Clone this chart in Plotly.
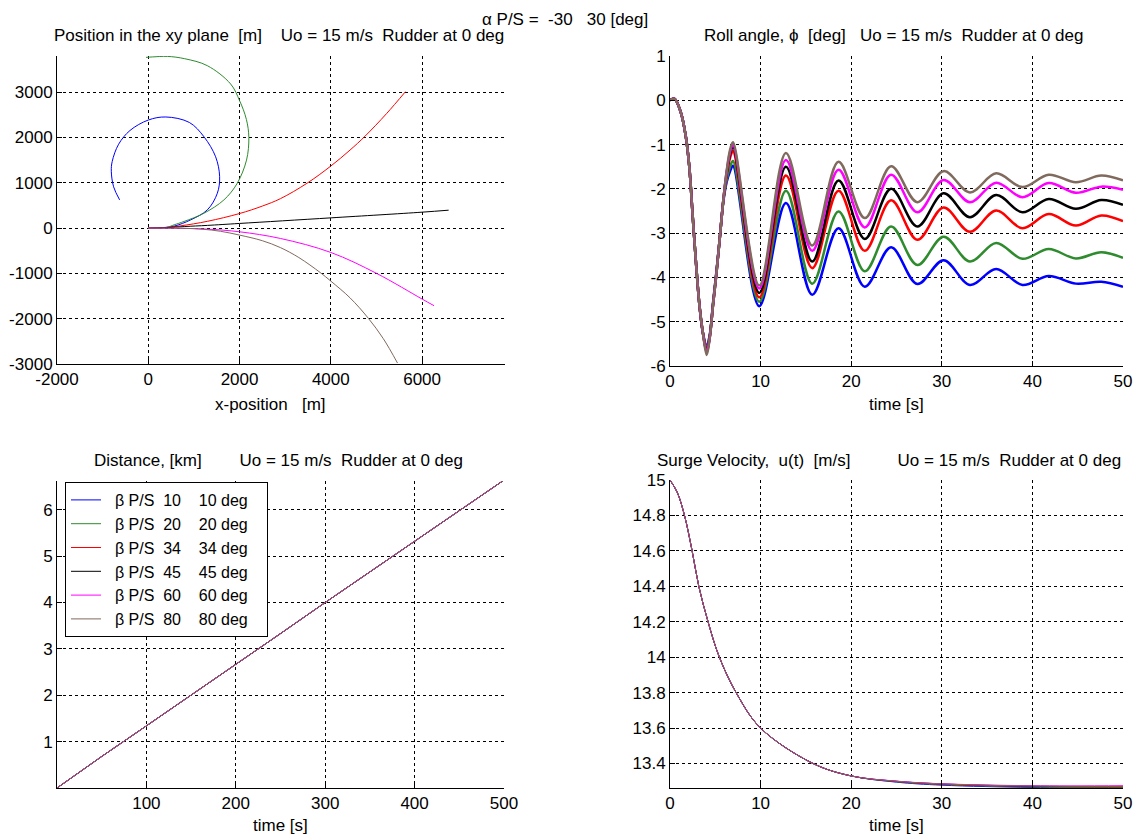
import plotly.graph_objects as go

NB = "\u00a0"

# ---------------- data ----------------
series_names = [
    f"{NB*2}β P/S{NB*2}10{NB*4}10 deg{NB*3}",
    f"{NB*2}β P/S{NB*2}20{NB*4}20 deg{NB*3}",
    f"{NB*2}β P/S{NB*2}34{NB*4}34 deg{NB*3}",
    f"{NB*2}β P/S{NB*2}45{NB*4}45 deg{NB*3}",
    f"{NB*2}β P/S{NB*2}60{NB*4}60 deg{NB*3}",
    f"{NB*2}β P/S{NB*2}80{NB*4}80 deg{NB*3}",
]
series_colors = ["#0000ff", "#2e8b2e", "#ff0000", "#000000", "#ff00ff", "#806a5e"]

# Position in the xy plane [m]
pos_x = [
    [0, 300, 567, 931, 1295, 1513, 1564, 1476, 1222, 900, 385, 0, -400, -650, -790, -810, -760, -628],
    [0, 400, 567, 785, 1222, 1658, 1949, 2153, 2204, 2150, 2000, 1804, 1295, 800, 422, 100, -50],
    [0, 400, 713, 1295, 2000, 2500, 2895, 3476, 4000, 4422, 4749, 5222, 5636],
    [0, 400, 800, 1295, 2000, 4007, 6000, 6582],
    [0, 700, 1295, 2000, 2895, 4000, 5004, 6000, 6262],
    [0, 800, 1200, 1585, 2000, 2500, 2895, 3300, 3767, 4000, 4422, 4822, 5150, 5462],
]
pos_y = [
    [0, 10, 44, 183, 403, 769, 1135, 1575, 2015, 2333, 2454, 2386, 2156, 1852, 1473, 1255, 913, 624],
    [0, 15, 73, 147, 330, 623, 989, 1502, 2000, 2400, 2817, 3183, 3586, 3740, 3791, 3780, 3770],
    [0, 15, 51, 150, 322, 487, 650, 989, 1370, 1724, 2028, 2529, 3013],
    [0, 10, 35, 60, 103, 227, 352, 396],
    [0, -5, -22, -81, -228, -537, -1000, -1566, -1713],
    [0, -5, -25, -70, -154, -278, -430, -650, -980, -1170, -1540, -1990, -2440, -2980],
]

# Roll angle [deg]
roll_t = [0, 0.5, 1.2, 1.76, 2.13, 2.5, 2.88, 3.26, 3.63, 4.05, 4.38, 4.76, 5.13, 5.5, 5.88, 6.25, 6.63,
          6.95, 9.85, 12.8, 15.7, 18.6, 21.5, 24.4, 27.3, 30.2, 33.1, 36.0, 38.9, 41.8, 44.8, 47.6, 50.0]
roll_phi = [
    [0, 0.03, -0.28, -0.84, -1.5, -2.6, -3.7, -4.65, -5.25, -5.55, -5.3, -4.55, -3.85, -3.1, -2.3, -1.85, -1.6,
     -1.48, -4.65, -2.32, -4.39, -2.89, -4.21, -3.32, -4.15, -3.61, -4.17, -3.81, -4.17, -3.97, -4.14, -4.10, -4.21],
    [0, 0.03, -0.28, -0.84, -1.5, -2.6, -3.7, -4.65, -5.25, -5.6, -5.33, -4.57, -3.87, -3.1, -2.28, -1.8, -1.5,
     -1.37, -4.55, -2.04, -4.14, -2.51, -3.86, -2.85, -3.72, -3.08, -3.64, -3.22, -3.58, -3.36, -3.57, -3.43, -3.56],
    [0, 0.03, -0.28, -0.84, -1.5, -2.6, -3.7, -4.65, -5.25, -5.65, -5.35, -4.6, -3.9, -3.1, -2.27, -1.7, -1.3,
     -1.15, -4.45, -1.70, -3.79, -2.04, -3.40, -2.26, -3.15, -2.42, -2.97, -2.49, -2.89, -2.57, -2.83, -2.60, -2.73],
    [0, 0.03, -0.28, -0.84, -1.5, -2.6, -3.7, -4.65, -5.25, -5.68, -5.36, -4.6, -3.9, -3.1, -2.27, -1.65, -1.22,
     -1.05, -4.35, -1.50, -3.64, -1.81, -3.13, -2.00, -2.85, -2.10, -2.64, -2.14, -2.53, -2.23, -2.45, -2.25, -2.36],
    [0, 0.03, -0.28, -0.84, -1.5, -2.6, -3.7, -4.65, -5.25, -5.7, -5.37, -4.6, -3.9, -3.1, -2.27, -1.62, -1.17,
     -1.00, -4.25, -1.35, -3.40, -1.57, -2.87, -1.68, -2.53, -1.80, -2.30, -1.86, -2.19, -1.87, -2.09, -1.95, -2.02],
    [0, 0.03, -0.28, -0.84, -1.5, -2.6, -3.7, -4.65, -5.25, -5.75, -5.38, -4.6, -3.9, -3.1, -2.27, -1.6, -1.12,
     -0.95, -4.18, -1.19, -3.28, -1.39, -2.66, -1.49, -2.30, -1.60, -2.08, -1.65, -1.96, -1.68, -1.85, -1.70, -1.81],
]

# Distance [km]
dist_t = [0, 50, 100, 150, 200, 250, 300, 350, 400, 450, 500]
dist_km = [0, 0.68, 1.34, 2.0, 2.67, 3.33, 4.0, 4.66, 5.32, 5.98, 6.64]

# Surge velocity u(t) [m/s]
surge_t = [0, 0.8, 1.6, 2.44, 3.18, 4.2, 5.45, 7.3, 10, 15.8, 20, 25, 30, 40, 50]
surge_u = [
    [15, 14.93, 14.8, 14.6, 14.4, 14.2, 14.0, 13.8, 13.6, 13.4, 13.33, 13.295, 13.278, 13.265, 13.262],
    [15, 14.93, 14.8, 14.6, 14.4, 14.2, 14.0, 13.8, 13.6, 13.4, 13.33, 13.297, 13.281, 13.268, 13.265],
    [15, 14.93, 14.8, 14.6, 14.4, 14.2, 14.0, 13.8, 13.6, 13.4, 13.33, 13.299, 13.283, 13.271, 13.268],
    [15, 14.93, 14.8, 14.6, 14.4, 14.2, 14.0, 13.8, 13.6, 13.4, 13.33, 13.300, 13.285, 13.272, 13.270],
    [15, 14.93, 14.8, 14.6, 14.4, 14.2, 14.0, 13.8, 13.6, 13.4, 13.33, 13.301, 13.286, 13.275, 13.275],
    [15, 14.93, 14.8, 14.6, 14.4, 14.2, 14.0, 13.8, 13.6, 13.4, 13.33, 13.300, 13.285, 13.273, 13.271],
]

# tick values / labels (plain hyphen minus, as in the reference)
xy_xticks = [-2000, 0, 2000, 4000, 6000]
xy_yticks = [-3000, -2000, -1000, 0, 1000, 2000, 3000]
roll_yticks = [-6, -5, -4, -3, -2, -1, 0, 1]
time_ticks = [0, 10, 20, 30, 40, 50]
dist_xticks = [100, 200, 300, 400, 500]
dist_yticks = [1, 2, 3, 4, 5, 6]
surge_yticks = [13.4, 13.6, 13.8, 14.0, 14.2, 14.4, 14.6, 14.8, 15.0]
surge_ylabels = ["13.4", "13.6", "13.8", "14", "14.2", "14.4", "14.6", "14.8", "15"]


def lab(vals):
    return [str(v) for v in vals]


# ---------------- figure ----------------
W, H = 1141, 839
OFF = 8  # page body margin of the html page
fig = go.Figure()

for i, (nm, col) in enumerate(zip(series_names, series_colors)):
    fig.add_trace(go.Scatter(x=pos_x[i], y=pos_y[i], mode="lines", name=nm, legendgroup=nm,
                             showlegend=False, line=dict(color=col, width=1, shape="spline"),
                             xaxis="x", yaxis="y"))
for i, (nm, col) in enumerate(zip(series_names, series_colors)):
    fig.add_trace(go.Scatter(x=roll_t, y=roll_phi[i], mode="lines", name=nm, legendgroup=nm,
                             showlegend=False, line=dict(color=col, width=2.5, shape="spline"),
                             xaxis="x2", yaxis="y2"))
for i, (nm, col) in enumerate(zip(series_names, series_colors)):
    fig.add_trace(go.Scatter(x=dist_t, y=dist_km, mode="lines", name=nm, legendgroup=nm,
                             showlegend=True, line=dict(color=col, width=1),
                             xaxis="x3", yaxis="y3"))
for i, (nm, col) in enumerate(zip(series_names, series_colors)):
    fig.add_trace(go.Scatter(x=surge_t, y=surge_u[i], mode="lines", name=nm, legendgroup=nm,
                             showlegend=False, line=dict(color=col, width=1, shape="spline"),
                             xaxis="x4", yaxis="y4"))

FONT = "Liberation Sans, Arial, sans-serif"
FS = 17


def ax(**kw):
    d = dict(showline=True, linecolor="black", linewidth=1, mirror=False, automargin=False,
             ticks="inside", ticklen=5, tickcolor="black",
             showgrid=True, gridcolor="black", gridwidth=1, griddash="3px,3px",
             zeroline=False, tickfont=dict(family=FONT, size=FS, color="black"))
    d.update(kw)
    return d


def px_x(a, b):
    return [(a - OFF) / W, (b - OFF) / W]


def px_y(top, bottom):
    return [1 - (bottom - OFF) / H, 1 - (top - OFF) / H]


fig.update_layout(
    width=W, height=H, autosize=False,
    margin=dict(l=0, r=0, t=0, b=0, autoexpand=False),
    paper_bgcolor="white", plot_bgcolor="white",
    font=dict(family=FONT, size=FS, color="black"),
    xaxis=ax(domain=px_x(57, 505), range=[-2000, 7817], tickvals=xy_xticks, ticktext=lab(xy_xticks), anchor="y"),
    yaxis=ax(domain=px_y(56, 364), range=[-3000, 3800], tickvals=xy_yticks, ticktext=lab(xy_yticks), anchor="x"),
    xaxis2=ax(domain=px_x(670, 1123), range=[0, 50], tickvals=time_ticks, ticktext=lab(time_ticks), anchor="y2"),
    yaxis2=ax(domain=px_y(56, 366), range=[-6, 1], tickvals=roll_yticks, ticktext=lab(roll_yticks), anchor="x2"),
    xaxis3=ax(domain=px_x(57, 504), range=[0, 500], tickvals=dist_xticks, ticktext=lab(dist_xticks), anchor="y3"),
    yaxis3=ax(domain=px_y(481, 788), range=[0, 6.62], tickvals=dist_yticks, ticktext=lab(dist_yticks), anchor="x3"),
    xaxis4=ax(domain=px_x(670, 1123), range=[0, 50], tickvals=time_ticks, ticktext=lab(time_ticks), anchor="y4"),
    yaxis4=ax(domain=px_y(480, 788), range=[13.262, 15], tickvals=surge_yticks, ticktext=surge_ylabels, anchor="x4"),
    legend=dict(x=(65 - OFF) / W, y=1 - (482 - OFF) / H, xanchor="left", yanchor="top",
                bgcolor="white", bordercolor="black", borderwidth=1,
                font=dict(family=FONT, size=16, color="black"),
                tracegroupgap=0, itemwidth=30),
    showlegend=True,
)

texts = [
    (f"α P/S ={NB*2}-30{NB*3}30 [deg]", 565, 20),
    (f"Position in the xy plane{NB*2}[m]{NB*4}Uo = 15 m/s{NB*2}Rudder at 0 deg", 279, 36),
    (f"Roll angle, ϕ{NB*2}[deg]{NB*3}Uo = 15 m/s{NB*2}Rudder at 0 deg", 894, 36),
    (f"Distance, [km]{NB*8}Uo = 15 m/s{NB*2}Rudder at 0 deg", 278, 460),
    (f"Surge Velocity,{NB*2}u(t){NB*2}[m/s]{NB*10}Uo = 15 m/s{NB*2}Rudder at 0 deg", 889, 460),
    (f"x-position{NB*3}[m]", 270, 404),
    ("time [s]", 896, 404),
    ("time [s]", 280, 825),
    ("time [s]", 896, 825),
]
for t, x, y in texts:
    fig.add_annotation(text=t, x=(x - OFF) / W, y=1 - (y - OFF) / H, xref="paper", yref="paper",
                       xanchor="center", yanchor="middle", showarrow=False,
                       font=dict(family=FONT, size=FS, color="black"))

fig.write_html("out.html")
